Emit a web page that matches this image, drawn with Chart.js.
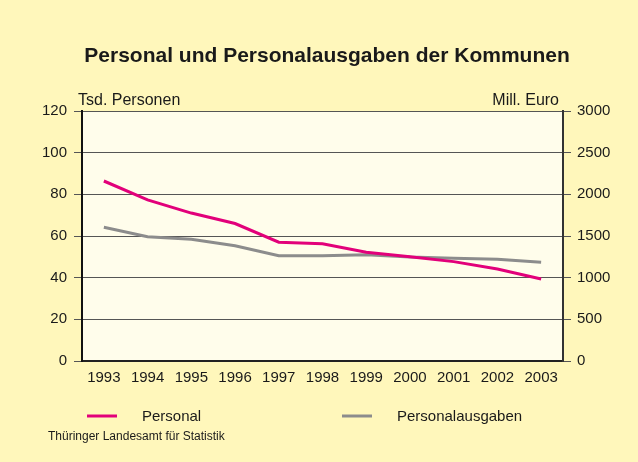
<!DOCTYPE html>
<html>
<head>
<meta charset="utf-8">
<script src="https://cdn.jsdelivr.net/npm/chart.js@4.4.1/dist/chart.umd.min.js"></script>
<style>
  html, body { margin: 0; padding: 0; background: #fff7bb; }
  #wrap { width: 638px; height: 462px; position: relative; }
</style>
</head>
<body>
<div id="wrap"><canvas id="chart" width="638" height="462"></canvas></div>
<script>
// data
var years = ['1993', '1994', '1995', '1996', '1997', '1998', '1999', '2000', '2001', '2002', '2003'];
var personal = [86.4, 77.3, 71, 66, 57, 56.3, 52.2, 50, 47.7, 44.2, 39.4];          // Tsd. Personen
var personalausgaben = [1604, 1492, 1460, 1384, 1264, 1264, 1276, 1248, 1232, 1220, 1184]; // Mill. Euro
var leftTicks = [0, 20, 40, 60, 80, 100, 120];
var rightTicks = [0, 500, 1000, 1500, 2000, 2500, 3000];

var titleText = 'Personal und Personalausgaben der Kommunen';
var sourceText = 'Thüringer Landesamt für Statistik';
var fontName = '"Liberation Sans", Arial, sans-serif';

// background of the plot area + texts around it
var decorPlugin = {
    id: 'decor',
    beforeDraw: function(chart) {
        var ctx = chart.ctx;
        var a = chart.chartArea;
        ctx.save();
        ctx.fillStyle = '#fff7bb';
        ctx.fillRect(0, 0, chart.width, chart.height);
        ctx.fillStyle = '#fffdeb';
        ctx.fillRect(a.left, a.top, a.right - a.left, a.bottom - a.top);
        ctx.restore();
    },
    afterDraw: function(chart) {
        var ctx = chart.ctx;
        var a = chart.chartArea;
        ctx.save();
        ctx.fillStyle = '#1a1a1a';
        ctx.textBaseline = 'alphabetic';

        ctx.font = 'bold 21px ' + fontName;
        ctx.textAlign = 'center';
        ctx.fillText(titleText, 327, 62);

        ctx.font = '16px ' + fontName;
        ctx.textAlign = 'left';
        ctx.fillText('Tsd. Personen', a.left - 4, 105);
        ctx.textAlign = 'right';
        ctx.fillText('Mill. Euro', a.right - 4, 105);

        // legend
        var items = chart.data.datasets;
        var lx = [87, 342];
        for (var i = 0; i < items.length; i++) {
            ctx.strokeStyle = items[i].borderColor;
            ctx.lineWidth = 3;
            ctx.beginPath();
            ctx.moveTo(lx[i], 416);
            ctx.lineTo(lx[i] + 30, 416);
            ctx.stroke();
            ctx.textAlign = 'left';
            ctx.font = '15px ' + fontName;
            ctx.fillText(items[i].label, lx[i] + 55, 421);
        }

        ctx.font = '12px ' + fontName;
        ctx.fillText(sourceText, 48, 440);
        ctx.restore();
    }
};

var ctx = document.getElementById('chart').getContext('2d');
var myChart = new Chart(ctx, {
    type: 'line',
    data: {
        labels: years,
        datasets: [{
            label: 'Personal',
            data: personal,
            yAxisID: 'y',
            borderColor: '#e2007a',
            borderWidth: 3,
            pointRadius: 0,
            tension: 0
        }, {
            label: 'Personalausgaben',
            data: personalausgaben,
            yAxisID: 'y1',
            borderColor: '#8c8c8c',
            borderWidth: 3,
            pointRadius: 0,
            tension: 0
        }]
    },
    options: {
        responsive: false,
        animation: false,
        layout: { padding: { top: 111, bottom: 71, left: 0, right: 0 } },
        plugins: {
            legend: { display: false },
            title: { display: false },
            tooltip: { enabled: false }
        },
        scales: {
            x: {
                offset: true,
                grid: { display: false },
                border: { color: '#222', width: 2 },
                ticks: { color: '#1a1a1a', font: { family: fontName, size: 15 }, padding: 0, maxRotation: 0 },
                afterFit: function(scale) { scale.height = 30; }
            },
            y: {
                position: 'left',
                min: 0,
                max: 120,
                afterBuildTicks: function(scale) {
                    scale.ticks = leftTicks.map(function(v) { return { value: v }; });
                },
                grid: { color: '#555', lineWidth: 1, tickLength: 8 },
                border: { color: '#111', width: 2 },
                ticks: { color: '#1a1a1a', font: { family: fontName, size: 15 }, padding: 7 },
                afterFit: function(scale) { scale.width = 82; }
            },
            y1: {
                position: 'right',
                min: 0,
                max: 3000,
                afterBuildTicks: function(scale) {
                    scale.ticks = rightTicks.map(function(v) { return { value: v }; });
                },
                grid: { drawOnChartArea: false, color: '#555', tickLength: 8 },
                border: { color: '#333', width: 2 },
                ticks: {
                    color: '#1a1a1a',
                    font: { family: fontName, size: 15 },
                    padding: 6,
                    callback: function(value) { return String(value); }
                },
                afterFit: function(scale) { scale.width = 75; }
            }
        }
    },
    plugins: [decorPlugin]
});
</script>
</body>
</html>
